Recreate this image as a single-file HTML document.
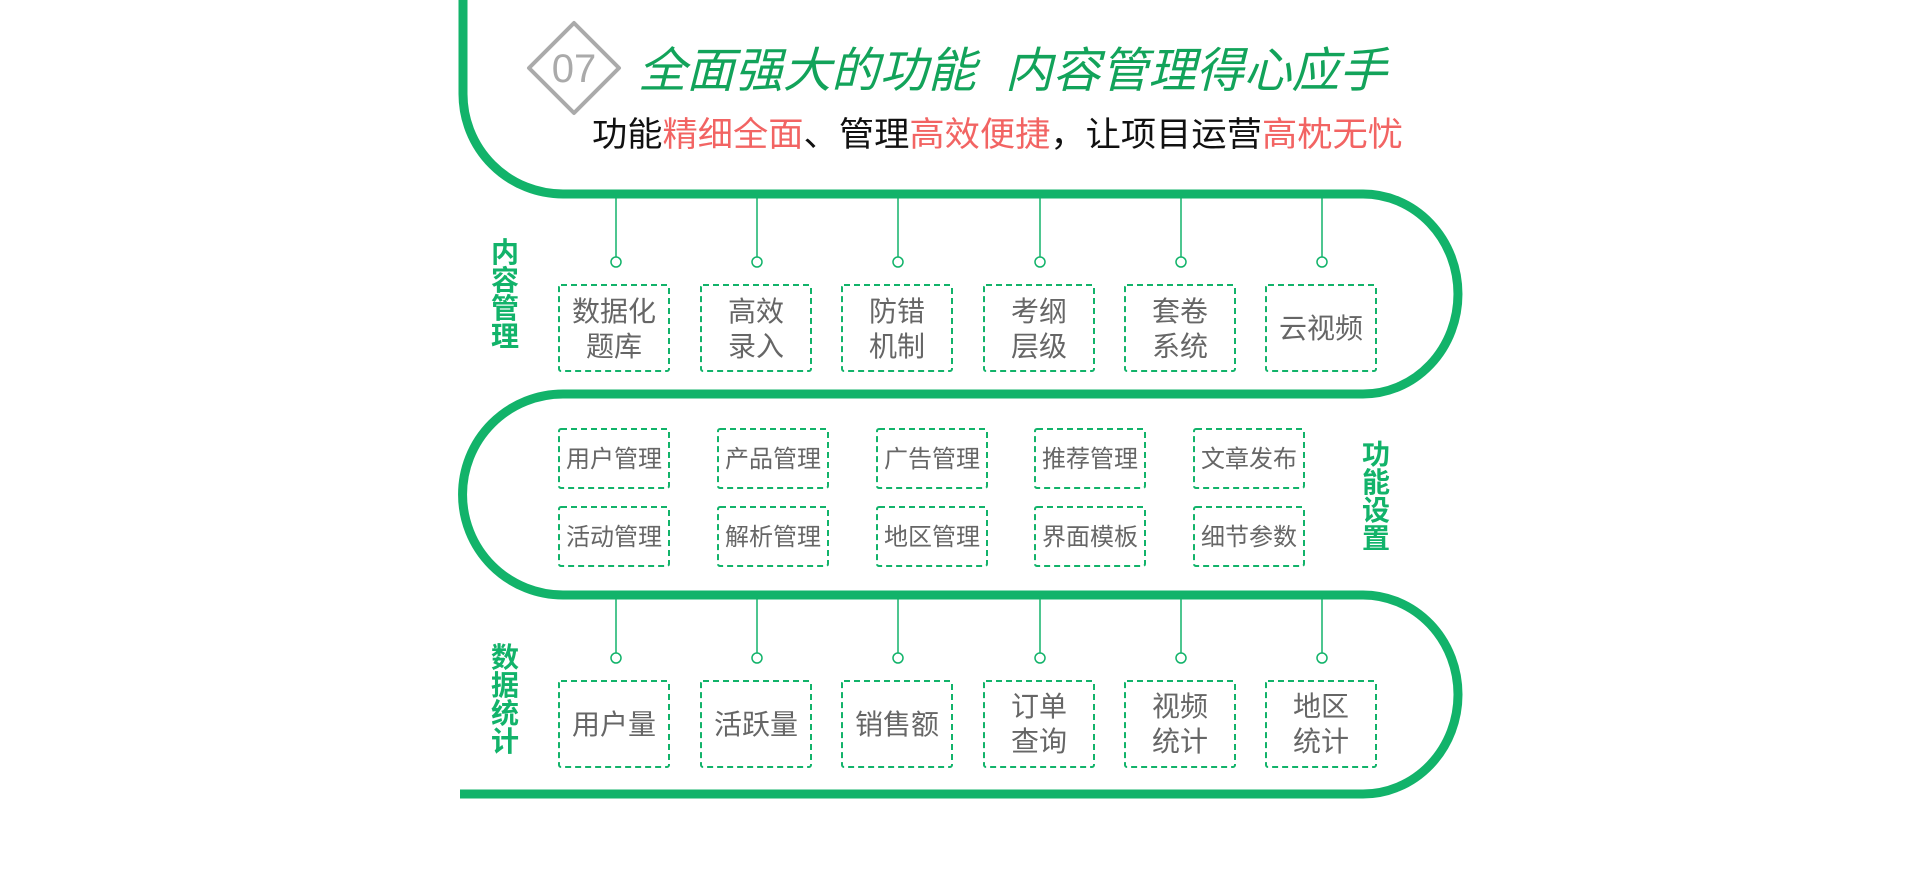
<!DOCTYPE html>
<html><head><meta charset="utf-8"><style>
html,body{margin:0;padding:0;background:#fff;width:1920px;height:888px;overflow:hidden}
svg{display:block}
.t{font-family:"Liberation Sans","Noto Sans CJK SC",sans-serif}
</style></head><body>
<svg width="1920" height="888" viewBox="0 0 1920 888" xmlns="http://www.w3.org/2000/svg" class="t">
<path d="M463 0 L463 94 A100 100 0 0 0 563 194 L1363 194 A95 100 0 0 1 1363 394 L563 394 A100.5 100.5 0 0 0 563 595 L1363 595 A95 99.5 0 0 1 1363 794 L460 794" fill="none" stroke="#12b36a" stroke-width="9"/>
<polygon points="574,23 619,68 574,113 529,68" fill="none" stroke="#aaa" stroke-width="4" stroke-linejoin="round"/>
<text x="574" y="82" font-size="40" fill="#aaa" text-anchor="middle" font-weight="300">07</text>
<text x="638" y="87" font-size="48" fill="#12a35a" font-style="italic" textLength="338" lengthAdjust="spacingAndGlyphs">全面强大的功能</text>
<text x="1005" y="87" font-size="48" fill="#12a35a" font-style="italic" textLength="382" lengthAdjust="spacingAndGlyphs">内容管理得心应手</text>
<text x="592" y="146" font-size="34" fill="#111" textLength="811" lengthAdjust="spacingAndGlyphs">功能<tspan fill="#f26463">精细全面</tspan>、管理<tspan fill="#f26463">高效便捷</tspan>，让项目运营<tspan fill="#f26463">高枕无忧</tspan></text>
<g font-size="28" font-weight="bold" fill="#12b36a" text-anchor="middle">
<text x="505" y="262">内</text><text x="505" y="290">容</text><text x="505" y="318">管</text><text x="505" y="346">理</text>
<text x="1376" y="464">功</text><text x="1376" y="492">能</text><text x="1376" y="520">设</text><text x="1376" y="548">置</text>
<text x="505" y="667">数</text><text x="505" y="695">据</text><text x="505" y="723">统</text><text x="505" y="751">计</text>
</g>
<g stroke="#12b36a" stroke-width="1.5" fill="#fff">
<line x1="616" y1="198" x2="616" y2="257"/><line x1="757" y1="198" x2="757" y2="257"/><line x1="898" y1="198" x2="898" y2="257"/><line x1="1040" y1="198" x2="1040" y2="257"/><line x1="1181" y1="198" x2="1181" y2="257"/><line x1="1322" y1="198" x2="1322" y2="257"/>
<circle cx="616" cy="262" r="5"/><circle cx="757" cy="262" r="5"/><circle cx="898" cy="262" r="5"/><circle cx="1040" cy="262" r="5"/><circle cx="1181" cy="262" r="5"/><circle cx="1322" cy="262" r="5"/>
<line x1="616" y1="599" x2="616" y2="653"/><line x1="757" y1="599" x2="757" y2="653"/><line x1="898" y1="599" x2="898" y2="653"/><line x1="1040" y1="599" x2="1040" y2="653"/><line x1="1181" y1="599" x2="1181" y2="653"/><line x1="1322" y1="599" x2="1322" y2="653"/>
<circle cx="616" cy="658" r="5"/><circle cx="757" cy="658" r="5"/><circle cx="898" cy="658" r="5"/><circle cx="1040" cy="658" r="5"/><circle cx="1181" cy="658" r="5"/><circle cx="1322" cy="658" r="5"/>
</g>
<g fill="none" stroke="#12b36a" stroke-width="2" stroke-dasharray="6 4">
<rect x="559" y="285" width="110" height="86" rx="2"/><rect x="701" y="285" width="110" height="86" rx="2"/><rect x="842" y="285" width="110" height="86" rx="2"/><rect x="984" y="285" width="110" height="86" rx="2"/><rect x="1125" y="285" width="110" height="86" rx="2"/><rect x="1266" y="285" width="110" height="86" rx="2"/>
<rect x="559" y="429" width="110" height="59" rx="2"/><rect x="718" y="429" width="110" height="59" rx="2"/><rect x="877" y="429" width="110" height="59" rx="2"/><rect x="1035" y="429" width="110" height="59" rx="2"/><rect x="1194" y="429" width="110" height="59" rx="2"/>
<rect x="559" y="507" width="110" height="59" rx="2"/><rect x="718" y="507" width="110" height="59" rx="2"/><rect x="877" y="507" width="110" height="59" rx="2"/><rect x="1035" y="507" width="110" height="59" rx="2"/><rect x="1194" y="507" width="110" height="59" rx="2"/>
<rect x="559" y="681" width="110" height="86" rx="2"/><rect x="701" y="681" width="110" height="86" rx="2"/><rect x="842" y="681" width="110" height="86" rx="2"/><rect x="984" y="681" width="110" height="86" rx="2"/><rect x="1125" y="681" width="110" height="86" rx="2"/><rect x="1266" y="681" width="110" height="86" rx="2"/>
</g>
<g font-size="28" fill="#666" text-anchor="middle">
<text x="614" y="321">数据化</text><text x="614" y="356">题库</text>
<text x="756" y="321">高效</text><text x="756" y="356">录入</text>
<text x="897" y="321">防错</text><text x="897" y="356">机制</text>
<text x="1039" y="321">考纲</text><text x="1039" y="356">层级</text>
<text x="1180" y="321">套卷</text><text x="1180" y="356">系统</text>
<text x="1321" y="338">云视频</text>
<text x="614" y="734">用户量</text>
<text x="756" y="734">活跃量</text>
<text x="897" y="734">销售额</text>
<text x="1039" y="716">订单</text><text x="1039" y="751">查询</text>
<text x="1180" y="716">视频</text><text x="1180" y="751">统计</text>
<text x="1321" y="716">地区</text><text x="1321" y="751">统计</text>
</g>
<g font-size="24" fill="#666" text-anchor="middle">
<text x="614" y="467">用户管理</text><text x="773" y="467">产品管理</text><text x="932" y="467">广告管理</text><text x="1090" y="467">推荐管理</text><text x="1249" y="467">文章发布</text>
<text x="614" y="545">活动管理</text><text x="773" y="545">解析管理</text><text x="932" y="545">地区管理</text><text x="1090" y="545">界面模板</text><text x="1249" y="545">细节参数</text>
</g>
</svg>
</body></html>
